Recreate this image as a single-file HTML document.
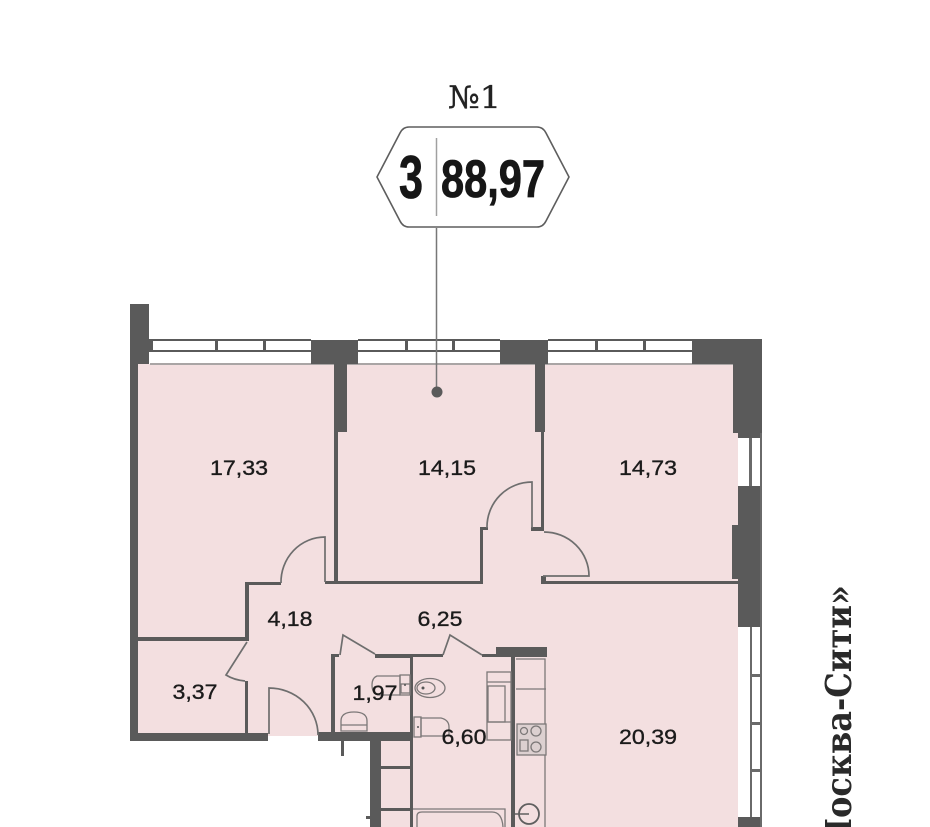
<!DOCTYPE html>
<html lang="ru">
<head>
<meta charset="utf-8">
<title>№1</title>
<style>
html,body{margin:0;padding:0;background:#fff;width:930px;height:827px;overflow:hidden}
svg{display:block}
</style>
</head>
<body>
<svg width="930" height="827" viewBox="0 0 930 827" xmlns="http://www.w3.org/2000/svg">
<defs><clipPath id="frame"><rect width="930" height="827"/></clipPath></defs>
<g clip-path="url(#frame)">
<!-- pink floor -->
<path d="M138 364H733V433H738V827H381V741H318V736H268V735H138Z" fill="#f3dfe0"/>

<!-- top windows -->
<g fill="#fff">
<rect x="150" y="340" width="161" height="24"/><rect x="358" y="340" width="142" height="24"/><rect x="548" y="340" width="144" height="24"/>
</g>
<g fill="#5a5a5a">
<rect x="149" y="339" width="162" height="2"/><rect x="149" y="350" width="162" height="2"/>
<rect x="149" y="341" width="4" height="10"/><rect x="215" y="341" width="3" height="10"/><rect x="263" y="341" width="3" height="10"/>
<rect x="358" y="339" width="142" height="2"/><rect x="358" y="350" width="142" height="2"/>
<rect x="405" y="341" width="3" height="10"/><rect x="452" y="341" width="3" height="10"/>
<rect x="548" y="339" width="144" height="2"/><rect x="548" y="350" width="144" height="2"/>
<rect x="595" y="341" width="3" height="10"/><rect x="643" y="341" width="3" height="10"/>
</g>
<rect x="150" y="363" width="584" height="2" fill="#a9a5a5"/>

<!-- thick walls -->
<g fill="#5a5a5a">
<path d="M130 304H149V364H138V733H268V741H130Z"/>
<path d="M311 340H358V364H347V432H338V581H334V364H311Z"/>
<path d="M500 340H548V364H545V432H535V364H500Z"/>
<rect x="541" y="432" width="3" height="96"/>
<path d="M692 339H762V438H738V433H733V364H692Z"/>
<path d="M738 486H761V627H738V579H732V525H738Z"/>
<rect x="738" y="817" width="24" height="10"/>
<!-- partitions -->
<rect x="138" y="637" width="110" height="4"/>
<rect x="245" y="582" width="4" height="59"/>
<rect x="245" y="582" width="36" height="3"/>
<rect x="325" y="581" width="158" height="3"/>
<rect x="480" y="527" width="3" height="57"/>
<rect x="480" y="527" width="8" height="3"/>
<rect x="531" y="527" width="13" height="4"/>
<rect x="542" y="581" width="196" height="3"/>
<rect x="541" y="576" width="5" height="8"/>
<rect x="245" y="681" width="3" height="53"/>
<rect x="318" y="732" width="95" height="9"/>
<rect x="341" y="741" width="3" height="15"/>
<rect x="331" y="654" width="4" height="79"/>
<rect x="331" y="654" width="8" height="3"/>
<rect x="375" y="654" width="37" height="4"/>
<rect x="410" y="654" width="33" height="3"/>
<rect x="482" y="654" width="15" height="3"/>
<rect x="496" y="647" width="51" height="10"/>
<rect x="410" y="654" width="3" height="173"/>
<rect x="511" y="657" width="4" height="170"/>
<rect x="370" y="741" width="11" height="86"/>
<rect x="381" y="766" width="30" height="3"/>
<rect x="381" y="808" width="30" height="3"/>
<rect x="366" y="816" width="4" height="3"/>
</g>

<!-- right windows -->
<g fill="#fff">
<rect x="738" y="438" width="11" height="48"/><rect x="752" y="440" width="8" height="44"/>
<rect x="738" y="627" width="12" height="190"/><rect x="752" y="629" width="8" height="186"/>
</g>
<g fill="#6a6a6a">
<rect x="760" y="433" width="2" height="394"/>
<rect x="750" y="627" width="2" height="190"/>
<rect x="752" y="674" width="8" height="3"/><rect x="752" y="722" width="8" height="3"/><rect x="752" y="769" width="8" height="3"/>
<rect x="749" y="438" width="3" height="48"/>
</g>

<!-- doors -->
<g fill="none" stroke="#6e6e6e" stroke-width="1.7">
<path d="M281 583A44 45 0 0 1 325 537V582"/>
<path d="M487 528A45 45 0 0 1 532 482V528"/>
<path d="M544 532A45 44 0 0 1 589 576H543"/>
<path d="M269 734V688A49 47 0 0 1 318 735"/>
<path d="M247 642L226 675Q234 680 245 681"/>
<path d="M340 655L343 635L375 654"/>
<path d="M443 655L450 635L482 655"/>
</g>

<!-- fixtures -->
<g fill="none" stroke="#7c7878" stroke-width="1.3">
<path d="M400 676H377Q372 678 372 685Q372 693 378 695H400Z"/>
<rect x="400" y="675" width="10" height="20"/>
<ellipse cx="430" cy="688" rx="15" ry="9.5"/><ellipse cx="426" cy="688" rx="9" ry="6"/>
<rect x="401" y="684" width="9" height="9"/>
<path d="M421 718H441Q449 720 449 727V736H421Z"/>
<rect x="414" y="717" width="7" height="20"/>
<path d="M341 731V721Q341 712 354 712Q367 712 367 721V731Z"/><path d="M341 725H367"/>
<rect x="487" y="672" width="24" height="68"/>
<rect x="488" y="686" width="17" height="36"/>
<path d="M487 682H511M487 722H511"/>
<path d="M516 659H545V827"/><path d="M516 689H546"/>
<rect x="517" y="724" width="29" height="31" fill="#dcd0d0"/>
<circle cx="524" cy="731" r="3.5"/><circle cx="536" cy="731" r="5"/><circle cx="536" cy="747" r="5"/>
<rect x="520" y="740" width="8" height="11"/>
<path d="M413 809H505V827"/>
<path d="M417 827V816Q417 812 422 812H492Q502 812 503 827"/>
</g>
<circle cx="529" cy="814" r="10" fill="none" stroke="#5f5f5f" stroke-width="1.8"/>
<path d="M515 814H529" stroke="#5f5f5f" stroke-width="1.5"/>
<g fill="#555">
<circle cx="405" cy="685" r="1"/><circle cx="418" cy="727" r="1"/><circle cx="423" cy="688" r="1.5"/>
</g>

<!-- room labels -->
<g font-family="'Liberation Sans',sans-serif" font-size="21" fill="#1b1b1b" stroke="#1b1b1b" stroke-width="0.35" text-anchor="middle">
<text x="239" y="475" textLength="58" lengthAdjust="spacingAndGlyphs">17,33</text>
<text x="447" y="475" textLength="58" lengthAdjust="spacingAndGlyphs">14,15</text>
<text x="648" y="475" textLength="58" lengthAdjust="spacingAndGlyphs">14,73</text>
<text x="290" y="626" textLength="45" lengthAdjust="spacingAndGlyphs">4,18</text>
<text x="440" y="626" textLength="45" lengthAdjust="spacingAndGlyphs">6,25</text>
<text x="195" y="699" textLength="45" lengthAdjust="spacingAndGlyphs">3,37</text>
<text x="375" y="700" textLength="45" lengthAdjust="spacingAndGlyphs">1,97</text>
<text x="464" y="744" textLength="45" lengthAdjust="spacingAndGlyphs">6,60</text>
<text x="648" y="744" textLength="58" lengthAdjust="spacingAndGlyphs">20,39</text>
</g>

<!-- leader and badge -->
<path d="M436.5 228V392" stroke="#777" stroke-width="1.5"/>
<circle cx="437" cy="392" r="5.5" fill="#5a5a5a"/>
<path d="M377 177L400 133Q403 127 409 127H537Q543 127 546 133L569 177L546 221Q543 227 537 227H409Q403 227 400 221Z" fill="#fff" stroke="#5e5e5e" stroke-width="1.6" stroke-linejoin="round"/>
<path d="M436.5 138V216" stroke="#a0a0a0" stroke-width="1.5"/>
<text x="399" y="198" font-family="'Liberation Sans',sans-serif" font-weight="700" font-size="60" fill="#161616" stroke="#161616" stroke-width="0.8" textLength="24" lengthAdjust="spacingAndGlyphs">3</text>
<text x="441" y="197" font-family="'Liberation Sans',sans-serif" font-weight="700" font-size="53" fill="#161616" stroke="#161616" stroke-width="0.8" textLength="104" lengthAdjust="spacingAndGlyphs">88,97</text>
<text x="448" y="108" font-family="'DejaVu Serif',serif" font-size="31" fill="#222" stroke="#222" stroke-width="0.3" textLength="53" lengthAdjust="spacingAndGlyphs">№1</text>

<!-- rotated caption -->
<text transform="translate(851 585) rotate(-90) scale(1 1.12)" text-anchor="end" font-family="'DejaVu Serif',serif" font-weight="700" font-size="32" fill="#2a2a2a">«Москва-Сити»</text>
</g>
</svg>
</body>
</html>
